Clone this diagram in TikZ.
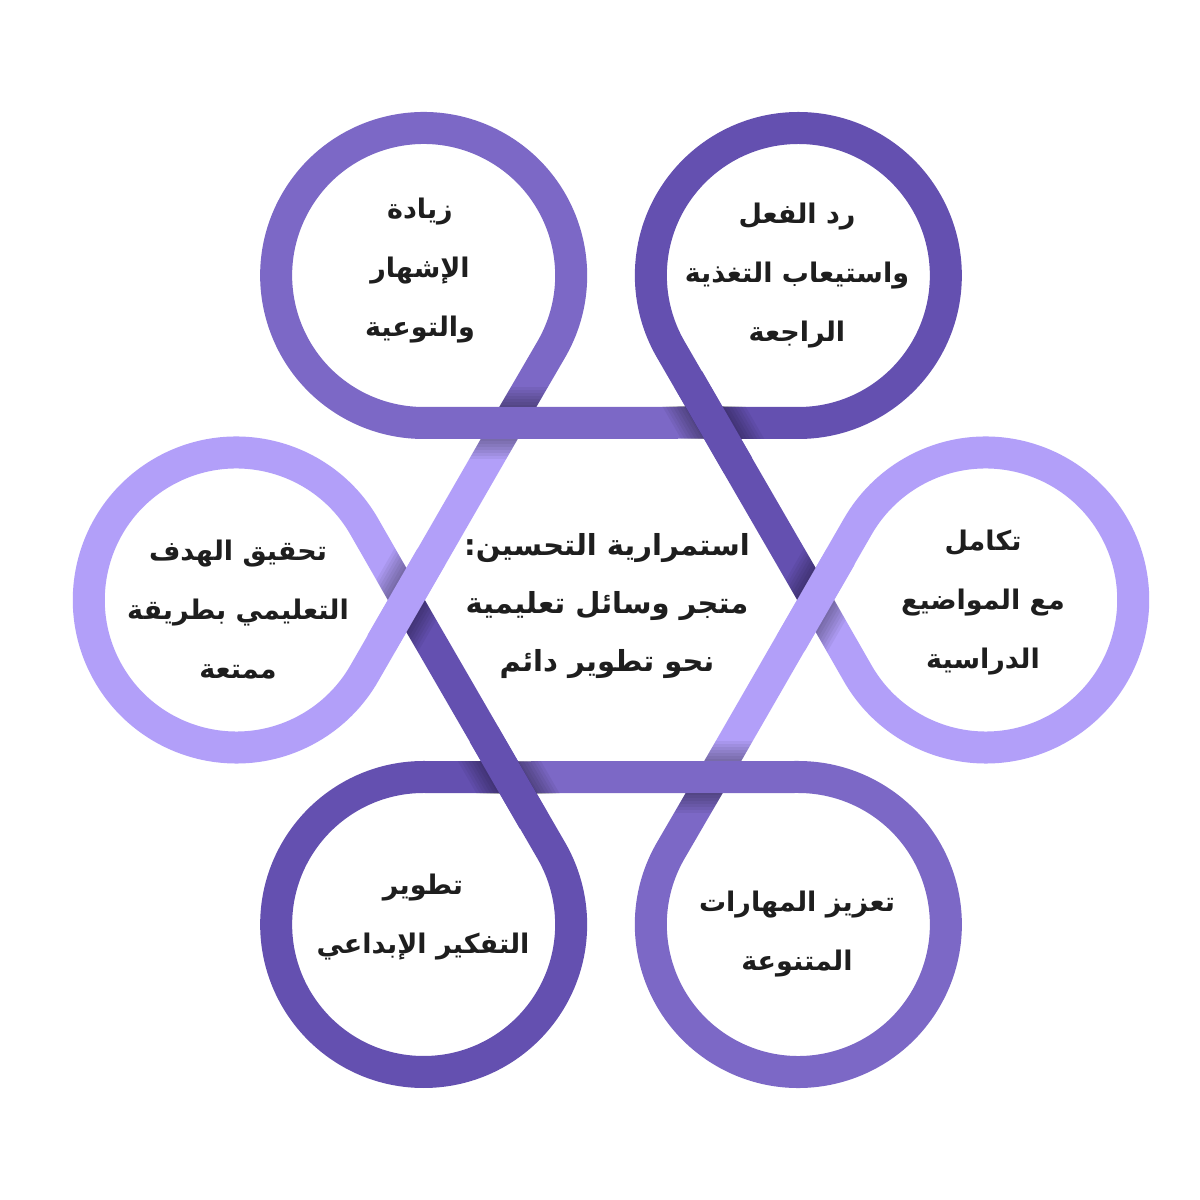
\documentclass[tikz,border=0pt]{standalone}
\usepackage{fontspec}
\newfontfamily\arabicfont[Script=Arabic]{DejaVu Sans}
\TeXXeTstate=1
\usetikzlibrary{calc}
\definecolor{cL}{HTML}{B29FF9}
\definecolor{cM}{HTML}{7C68C6}
\definecolor{cD}{HTML}{6450B0}
\definecolor{txt}{HTML}{1E1E1E}
\begin{document}
\begin{tikzpicture}[x=1pt,y=1pt,
  band/.style={line width=32pt},
  lbl/.style={text=txt, align=center, font=\arabicfont\bfseries\fontsize{27pt}{59pt}\selectfont},
  title/.style={text=txt, align=center, font=\arabicfont\bfseries\fontsize{29pt}{58pt}\selectfont},
]
\fill[white] (0,0) rectangle (1200,1200);
\useasboundingbox (0,0) rectangle (1200,1200);
\coordinate (C) at (611,600);
\foreach \a in {0,60,120,180,240,300}{
  \coordinate (V\a) at ($(C)+(\a:374.7pt)$);
  \coordinate (X\a) at ($(C)+(\a:204.7pt)$);
}
% loop pieces
\foreach \a/\c/\n in {120/cM/60, 60/cD/0, 0/cL/300, 300/cM/240, 240/cD/180, 180/cL/120}{
  \pgfmathsetmacro\sa{\a+210}
  \pgfmathsetmacro\ea{\a+510}
  \draw[band, \c] (X\a) -- ($(V\a)+(\sa:147.5pt)$)
     arc[start angle=\sa, end angle=\ea, radius=147.5pt] -- (X\n);
}
% crossings: shadow on under band, then over band
\foreach \a/\c in {120/cM, 60/cD, 0/cL, 300/cM, 240/cD, 180/cL}{
  \pgfmathsetmacro\din{\a-60}
  \pgfmathsetmacro\dinb{\a+120}
  \pgfmathsetmacro\nin{\a+30}
  \pgfmathsetmacro\ninb{\a+210}
  \pgfmathsetmacro\dout{\a-120}
  \pgfmathsetmacro\doutb{\a+60}
  \begin{scope}
    \clip ($(X\a)+(\din:62pt)+(\nin:16pt)$) -- ($(X\a)+(\din:62pt)+(\ninb:16pt)$)
      -- ($(X\a)+(\dinb:62pt)+(\ninb:16pt)$) -- ($(X\a)+(\dinb:62pt)+(\nin:16pt)$) -- cycle;
    \foreach \k in {2,5,8,11,14,17,20}{
      \pgfmathsetmacro\lw{32+2*\k}
      \draw[black, opacity=0.05, line width=\lw pt] ($(X\a)+(\doutb:70pt)$) -- ($(X\a)+(\dout:70pt)$);
    }
  \end{scope}
  \draw[band, \c] ($(X\a)+(\doutb:50pt)$) -- ($(X\a)+(\dout:50pt)$);
}
% texts
\node[title] (center) at (607,594) {\beginR استمرارية التحسين:\endR\\\beginR متجر وسائل تعليمية\endR\\\beginR نحو تطوير دائم\endR};
\node[lbl] (tl) at (420,929) {\beginR زيادة\endR\\\beginR الإشهار\endR\\\beginR والتوعية\endR};
\node[lbl] (tr) at (797,924) {\beginR رد الفعل\endR\\\beginR واستيعاب التغذية\endR\\\beginR الراجعة\endR};
\node[lbl] (r) at (983,597) {\beginR تكامل\endR\\\beginR مع المواضيع\endR\\\beginR الدراسية\endR};
\node[lbl] (l) at (238,590) {\beginR تحقيق الهدف\endR\\\beginR التعليمي بطريقة\endR\\\beginR ممتعة\endR};
\node[lbl] (br) at (797,266) {\beginR تعزيز المهارات\endR\\\beginR المتنوعة\endR};
\node[lbl] (bl) at (423,283) {\beginR تطوير\endR\\\beginR التفكير الإبداعي\endR};
\end{tikzpicture}
\end{document}
